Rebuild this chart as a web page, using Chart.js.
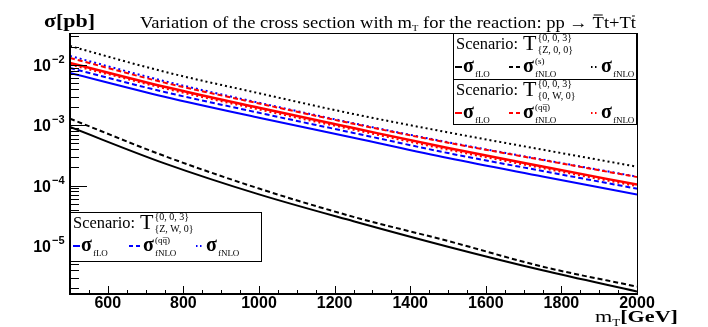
<!DOCTYPE html>
<html>
<head>
<meta charset="utf-8">
<script src="https://cdn.jsdelivr.net/npm/chart.js@4.4.0/dist/chart.umd.min.js"></script>
<style>
  body { margin: 0; background: #fff; }
  canvas { display: block; }
</style>
</head>
<body>
<canvas id="xsecChart" width="708" height="327"></canvas>
<script>
// m_T in GeV
const masses = [500, 750, 1000, 1250, 1500, 1750, 2000];

// Scenario T{0,0,3}{Z,0,0}  (black)
const zLO    = [9.37e-4, 2.34e-4, 7.16e-5, 2.57e-5, 9.72e-6, 3.95e-6, 1.76e-6];
const zNLOs  = [1.29e-3, 3.10e-4, 8.95e-5, 3.04e-5, 1.21e-5, 4.55e-6, 2.12e-6];
const zNLO   = [2.06e-2, 7.72e-3, 3.40e-3, 1.54e-3, 7.64e-4, 3.95e-4, 2.06e-4];

// Scenario T{0,0,3}{0,W,0}  (red)
const wLO    = [1.08e-2, 4.36e-3, 1.95e-3, 9.00e-4, 4.20e-4, 2.07e-4, 1.04e-4];
const wNLOqq = [1.31e-2, 5.10e-3, 2.30e-3, 1.06e-3, 5.15e-4, 2.66e-4, 1.39e-4];
const wNLO   = [1.02e-2, 4.10e-3, 1.83e-3, 8.46e-4, 3.95e-4, 1.95e-4, 9.80e-5];

// Scenario T{0,0,3}{Z,W,0}  (blue)
const zwLO    = [7.38e-3, 2.98e-3, 1.336e-3, 6.24e-4, 2.87e-4, 1.42e-4, 7.10e-5];
const zwNLOqq = [8.92e-3, 3.57e-3, 1.614e-3, 7.48e-4, 3.47e-4, 1.75e-4, 8.91e-5];
const zwNLO   = [1.41e-2, 5.40e-3, 2.37e-3, 1.084e-3, 5.24e-4, 2.70e-4, 1.41e-4];

// axis ticks
const xMajorTicks = [600, 800, 1000, 1200, 1400, 1600, 1800, 2000];
const xMinorStep = 50;
const yDecades = [-5, -4, -3, -2];

const SERIF = '"Liberation Serif", "Times New Roman", serif';
const SANS = '"Liberation Sans", Arial, sans-serif';

function pts(ys) {
    return masses.map((m, i) => ({ x: m, y: ys[i] }));
}

function ds(label, ys, color, dash, width) {
    return {
        label: label,
        data: pts(ys),
        borderColor: color,
        borderWidth: width || 2,
        borderDash: dash,
        pointRadius: 0,
        fill: false,
        cubicInterpolationMode: 'monotone'
    };
}

// write a run of text pieces left to right, stretched to fit a given width
function rich(ctx, x, y, parts, fitWidth) {
    let total = 0;
    parts.forEach(p => { ctx.font = p.font; total += ctx.measureText(p.t).width; });
    const sx = fitWidth ? fitWidth / total : 1;
    ctx.save();
    ctx.translate(x, y);
    ctx.scale(sx, 1);
    let cx = 0;
    parts.forEach(p => {
        ctx.font = p.font;
        ctx.fillText(p.t, cx, p.dy || 0);
        const w = ctx.measureText(p.t).width;
        if (p.over) {
            ctx.beginPath();
            ctx.lineWidth = 1;
            ctx.moveTo(cx + 1, p.over);
            ctx.lineTo(cx + w - 1, p.over);
            ctx.stroke();
        }
        cx += w;
    });
    ctx.restore();
}

function sample(ctx, x1, x2, y, color, dash) {
    ctx.save();
    ctx.strokeStyle = color;
    ctx.lineWidth = 2;
    ctx.setLineDash(dash);
    ctx.beginPath();
    ctx.moveTo(x1, y);
    ctx.lineTo(x2, y);
    ctx.stroke();
    ctx.restore();
}

function sigma(ctx, x, y, sub, sup) {
    ctx.font = 'bold 20px ' + SERIF;
    ctx.fillText('σ', x, y);
    const w = ctx.measureText('σ').width;
    ctx.font = '9px ' + SERIF;
    ctx.fillText(sub, x + w + 1, y + 5);
    if (sup) ctx.fillText(sup, x + w + 1, y - 8);
}

function scenario(ctx, x, y, lower) {
    rich(ctx, x, y, [{ t: 'Scenario:', font: '16px ' + SERIF }], 62);
    const tx = x + 67;
    ctx.font = '22px ' + SERIF;
    ctx.fillText('T', tx, y + 1);
    const sx = tx + ctx.measureText('T').width + 1;
    ctx.font = '10px ' + SERIF;
    ctx.fillText('{0, 0, 3}', sx, y - 8);
    ctx.fillText(lower, sx, y + 4);
}

function legendBox(ctx, box, lower, color, supNLO, pos) {
    ctx.save();
    ctx.fillStyle = '#fff';
    ctx.fillRect(box.x, box.y, box.w, box.h);
    ctx.strokeStyle = '#000';
    ctx.lineWidth = 1;
    ctx.strokeRect(box.x + 0.5, box.y + 0.5, box.w, box.h);
    ctx.fillStyle = '#000';
    scenario(ctx, box.x + 3, box.y + 16, lower);
    const ry = box.y + 34;
    sample(ctx, box.x + pos[0], box.x + pos[0] + 7, ry, color, []);
    sigma(ctx, box.x + pos[0] + 8, ry + 5, 'fLO');
    sample(ctx, box.x + pos[1], box.x + pos[1] + 12, ry, color, [4, 3]);
    sigma(ctx, box.x + pos[1] + 14, ry + 5, 'fNLO', supNLO);
    sample(ctx, box.x + pos[2], box.x + pos[2] + 7, ry, color, [1.5, 2.5]);
    sigma(ctx, box.x + pos[2] + 10, ry + 5, 'fNLO');
    ctx.restore();
}

const decorPlugin = {
    id: 'decor',
    afterDraw(chart) {
        const ctx = chart.ctx;
        const a = chart.chartArea;
        const xs = chart.scales.x;
        const ys = chart.scales.y;
        ctx.save();
        ctx.fillStyle = '#000';
        ctx.strokeStyle = '#000';

        // frame
        ctx.lineWidth = 1;
        ctx.strokeRect(a.left + 0.5, a.top + 0.5, a.right - a.left, a.bottom - a.top);
        ctx.lineWidth = 2;
        ctx.beginPath();
        ctx.moveTo(a.left, a.top);
        ctx.lineTo(a.left, a.bottom);
        ctx.lineTo(a.right, a.bottom);
        ctx.stroke();

        // x ticks
        ctx.lineWidth = 1;
        for (let m = xs.min; m <= xs.max; m += xMinorStep) {
            const px = Math.round(xs.getPixelForValue(m)) + 0.5;
            const len = m % 200 === 0 ? 8 : 4;
            ctx.beginPath();
            ctx.moveTo(px, a.bottom);
            ctx.lineTo(px, a.bottom - len);
            ctx.stroke();
        }
        ctx.font = 'bold 16px ' + SANS;
        ctx.textAlign = 'center';
        xMajorTicks.forEach(m => {
            ctx.fillText(String(m), xs.getPixelForValue(m), 308);
        });
        ctx.textAlign = 'left';

        // y ticks (log)
        for (let e = -6; e <= -1; e++) {
            for (let k = 1; k <= 9; k++) {
                const v = k * Math.pow(10, e);
                if (v < ys.min || v > ys.max) continue;
                const py = Math.round(ys.getPixelForValue(v)) + 0.5;
                ctx.beginPath();
                ctx.moveTo(a.left, py);
                ctx.lineTo(a.left + (k === 1 ? 17 : 9), py);
                ctx.stroke();
            }
        }
        yDecades.forEach(e => {
            const py = ys.getPixelForValue(Math.pow(10, e));
            ctx.font = 'bold 16px ' + SANS;
            ctx.textAlign = 'right';
            ctx.fillText('10', 51, py + 6);
            ctx.textAlign = 'left';
            ctx.font = 'bold 11px ' + SANS;
            ctx.fillText('\u2212' + (-e), 52, py - 2);
        });

        // axis titles
        rich(ctx, 44, 27, [{ t: 'σ[pb]', font: 'bold 18px ' + SERIF }], 51);
        rich(ctx, 595, 322, [
            { t: 'm', font: '17px ' + SERIF },
            { t: 'T', font: '10px ' + SERIF, dy: 4 },
            { t: '[GeV]', font: 'bold 17px ' + SERIF }
        ], 83);

        // title
        const f = '16px ' + SERIF;
        rich(ctx, 140, 28, [
            { t: 'Variation of the cross section with m', font: f },
            { t: 'T', font: '9px ' + SERIF, dy: 3 },
            { t: ' for the reaction: pp \u2192 ', font: f },
            { t: 'T', font: f, over: -13 },
            { t: 't+T', font: f },
            { t: 't', font: f, over: -12 }
        ], 496);

        // legends
        legendBox(ctx, { x: 453, y: 33, w: 183, h: 46 }, '{Z, 0, 0}', '#000', '(s)', [2, 56, 138]);
        legendBox(ctx, { x: 453, y: 79, w: 183, h: 45 }, '{0, W, 0}', '#ff0000', '(qq\u0305)', [2, 56, 138]);
        legendBox(ctx, { x: 70, y: 212, w: 191, h: 49 }, '{Z, W, 0}', '#0000ff', '(qq\u0305)', [3, 59, 126]);

        ctx.restore();
    }
};

new Chart(document.getElementById('xsecChart'), {
    type: 'line',
    data: {
        datasets: [
            ds('Z fNLO', zNLO, '#000', [2, 3], 2),
            ds('Z fNLO(s)', zNLOs, '#000', [5, 3], 2),
            ds('Z fLO', zLO, '#000', [], 2),
            ds('W fNLO', wNLO, '#ff0000', [2, 3], 2),
            ds('W fNLO(qq)', wNLOqq, '#ff0000', [5, 3], 2),
            ds('W fLO', wLO, '#ff0000', [], 2.5),
            ds('ZW fNLO(qq)', zwNLOqq, '#0000ff', [5, 3], 2),
            ds('ZW fLO', zwLO, '#0000ff', [], 2),
            ds('ZW fNLO', zwNLO, '#0000ff', [2, 3], 2)
        ]
    },
    options: {
        responsive: false,
        animation: false,
        layout: { padding: { left: 70, right: 71, top: 33, bottom: 33 } },
        plugins: { legend: { display: false }, tooltip: { enabled: false } },
        scales: {
            x: { type: 'linear', min: 500, max: 2000, display: false },
            y: { type: 'logarithmic', min: 1.6e-6, max: 0.0339, display: false }
        }
    },
    plugins: [decorPlugin]
});
</script>
</body>
</html>
